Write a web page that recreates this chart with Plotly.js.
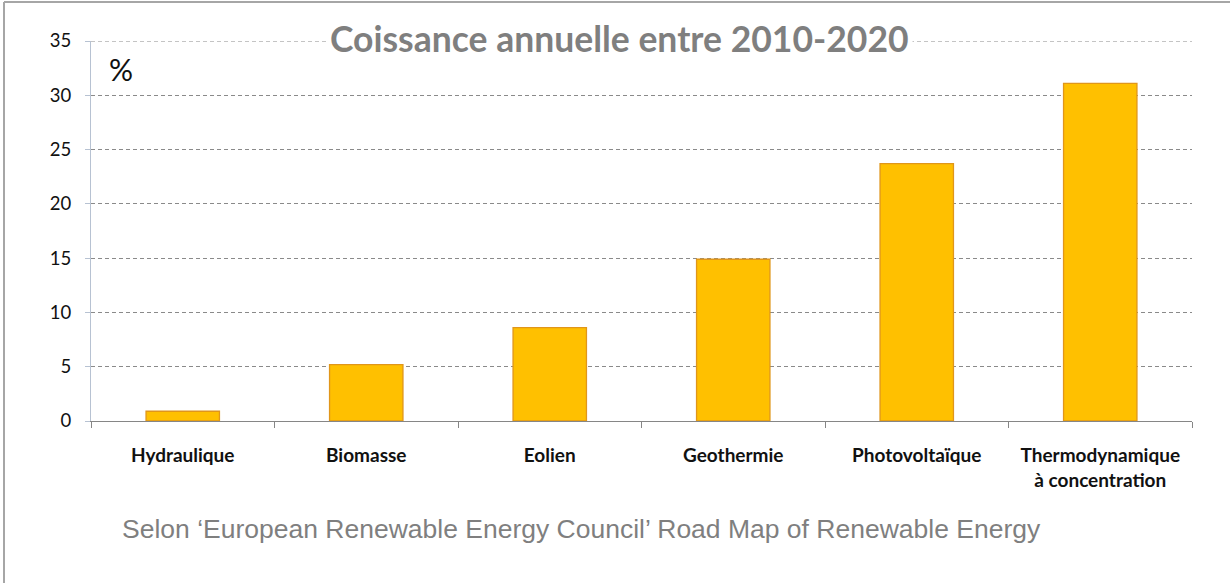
<!DOCTYPE html>
<html>
<head>
<meta charset="utf-8">
<script src="https://cdn.plot.ly/plotly-3.0.1.min.js"></script>
<style>
html,body{margin:0;padding:0;background:#fff;}
#chart{width:1230px;height:583px;}
</style>
</head>
<body>
<div id="chart"></div>
<script>
const categories = ["Hydraulique", "Biomasse", "Eolien", "Geothermie", "Photovoltaïque", "Thermodynamique<br>à concentration"];
const growth = [0.9, 5.2, 8.6, 14.9, 23.7, 31.1];
const yTicks = [0, 5, 10, 15, 20, 25, 30, 35];
const titleText = "Coissance annuelle entre 2010-2020";
const unitText = "%";
const sourceText = "Selon ‘European Renewable Energy Council’ Road Map of Renewable Energy";

const W = 1230, H = 583;
const m = {l: 91, r: 38, t: 41, b: 162};
const pw = W - m.l - m.r, ph = H - m.t - m.b;
const px = x => (x - m.l) / pw;
const py = y => 1 - (y - m.t) / ph;

const trace = {
  type: "bar",
  x: categories,
  y: growth,
  marker: {color: "#FFC000", line: {color: "#E0961A", width: 1.3}},
  hoverinfo: "x+y"
};

const gridColor = "#8a8a8a";
const gridDash = "4px,3px";

const layout = {
  width: W, height: H,
  margin: m,
  paper_bgcolor: "#fff",
  plot_bgcolor: "#fff",
  showlegend: false,
  bargap: 0.6,
  font: {family: "Lato, 'Noto Sans', sans-serif", color: "#111"},
  xaxis: {
    type: "category",
    showgrid: false,
    showline: true, linecolor: "#868686", linewidth: 1,
    ticks: "outside", tickson: "boundaries", ticklen: 6, tickcolor: "#868686",
    tickfont: {size: 19, color: "#111", weight: "bold"},
    ticklabelstandoff: 17,
    zeroline: false
  },
  yaxis: {
    range: [0, 35],
    tickvals: yTicks,
    showgrid: true, gridcolor: gridColor, griddash: gridDash, gridwidth: 1,
    showline: true, linecolor: "#B7C2D2", linewidth: 1,
    ticks: "outside", ticklen: 5, tickcolor: "#B7C2D2",
    tickfont: {size: 18.5, color: "#111"},
    ticklabelstandoff: 10,
    zeroline: false,
    layer: "below traces"
  },
  shapes: [
    {type: "line", xref: "paper", yref: "y", x0: 0, x1: 1, y0: 35, y1: 35, layer: "below",
     line: {color: gridColor, width: 1, dash: gridDash}},
    {type: "line", xref: "paper", yref: "paper", x0: px(4), x1: px(4), y0: py(2), y1: py(583),
     line: {color: "#a6a6a6", width: 2}},
    {type: "line", xref: "paper", yref: "paper", x0: px(4), x1: px(1230), y0: py(2), y1: py(2),
     line: {color: "#a6a6a6", width: 2}}
  ],
  annotations: [
    {text: "<b>" + titleText + "</b>", xref: "paper", yref: "paper", x: px(619), y: py(39),
     xanchor: "center", yanchor: "middle", showarrow: false, bgcolor: "#fff",
     borderpad: 3, font: {size: 35.5, color: "#7f7f7f", family: "Lato, 'Open Sans', sans-serif"}},
    {text: unitText, xref: "paper", yref: "paper", x: px(121), y: py(69),
     xanchor: "center", yanchor: "middle", showarrow: false,
     font: {size: 30, color: "#111"}},
    {text: sourceText, xref: "paper", yref: "paper", x: px(120), y: py(529),
     xanchor: "left", yanchor: "middle", showarrow: false,
     font: {size: 26.5, color: "#7f7f7f", family: "'Liberation Sans', Arial, sans-serif"}}
  ]
};

Plotly.newPlot("chart", [trace], layout, {displayModeBar: false, staticPlot: true});
</script>
</body>
</html>
